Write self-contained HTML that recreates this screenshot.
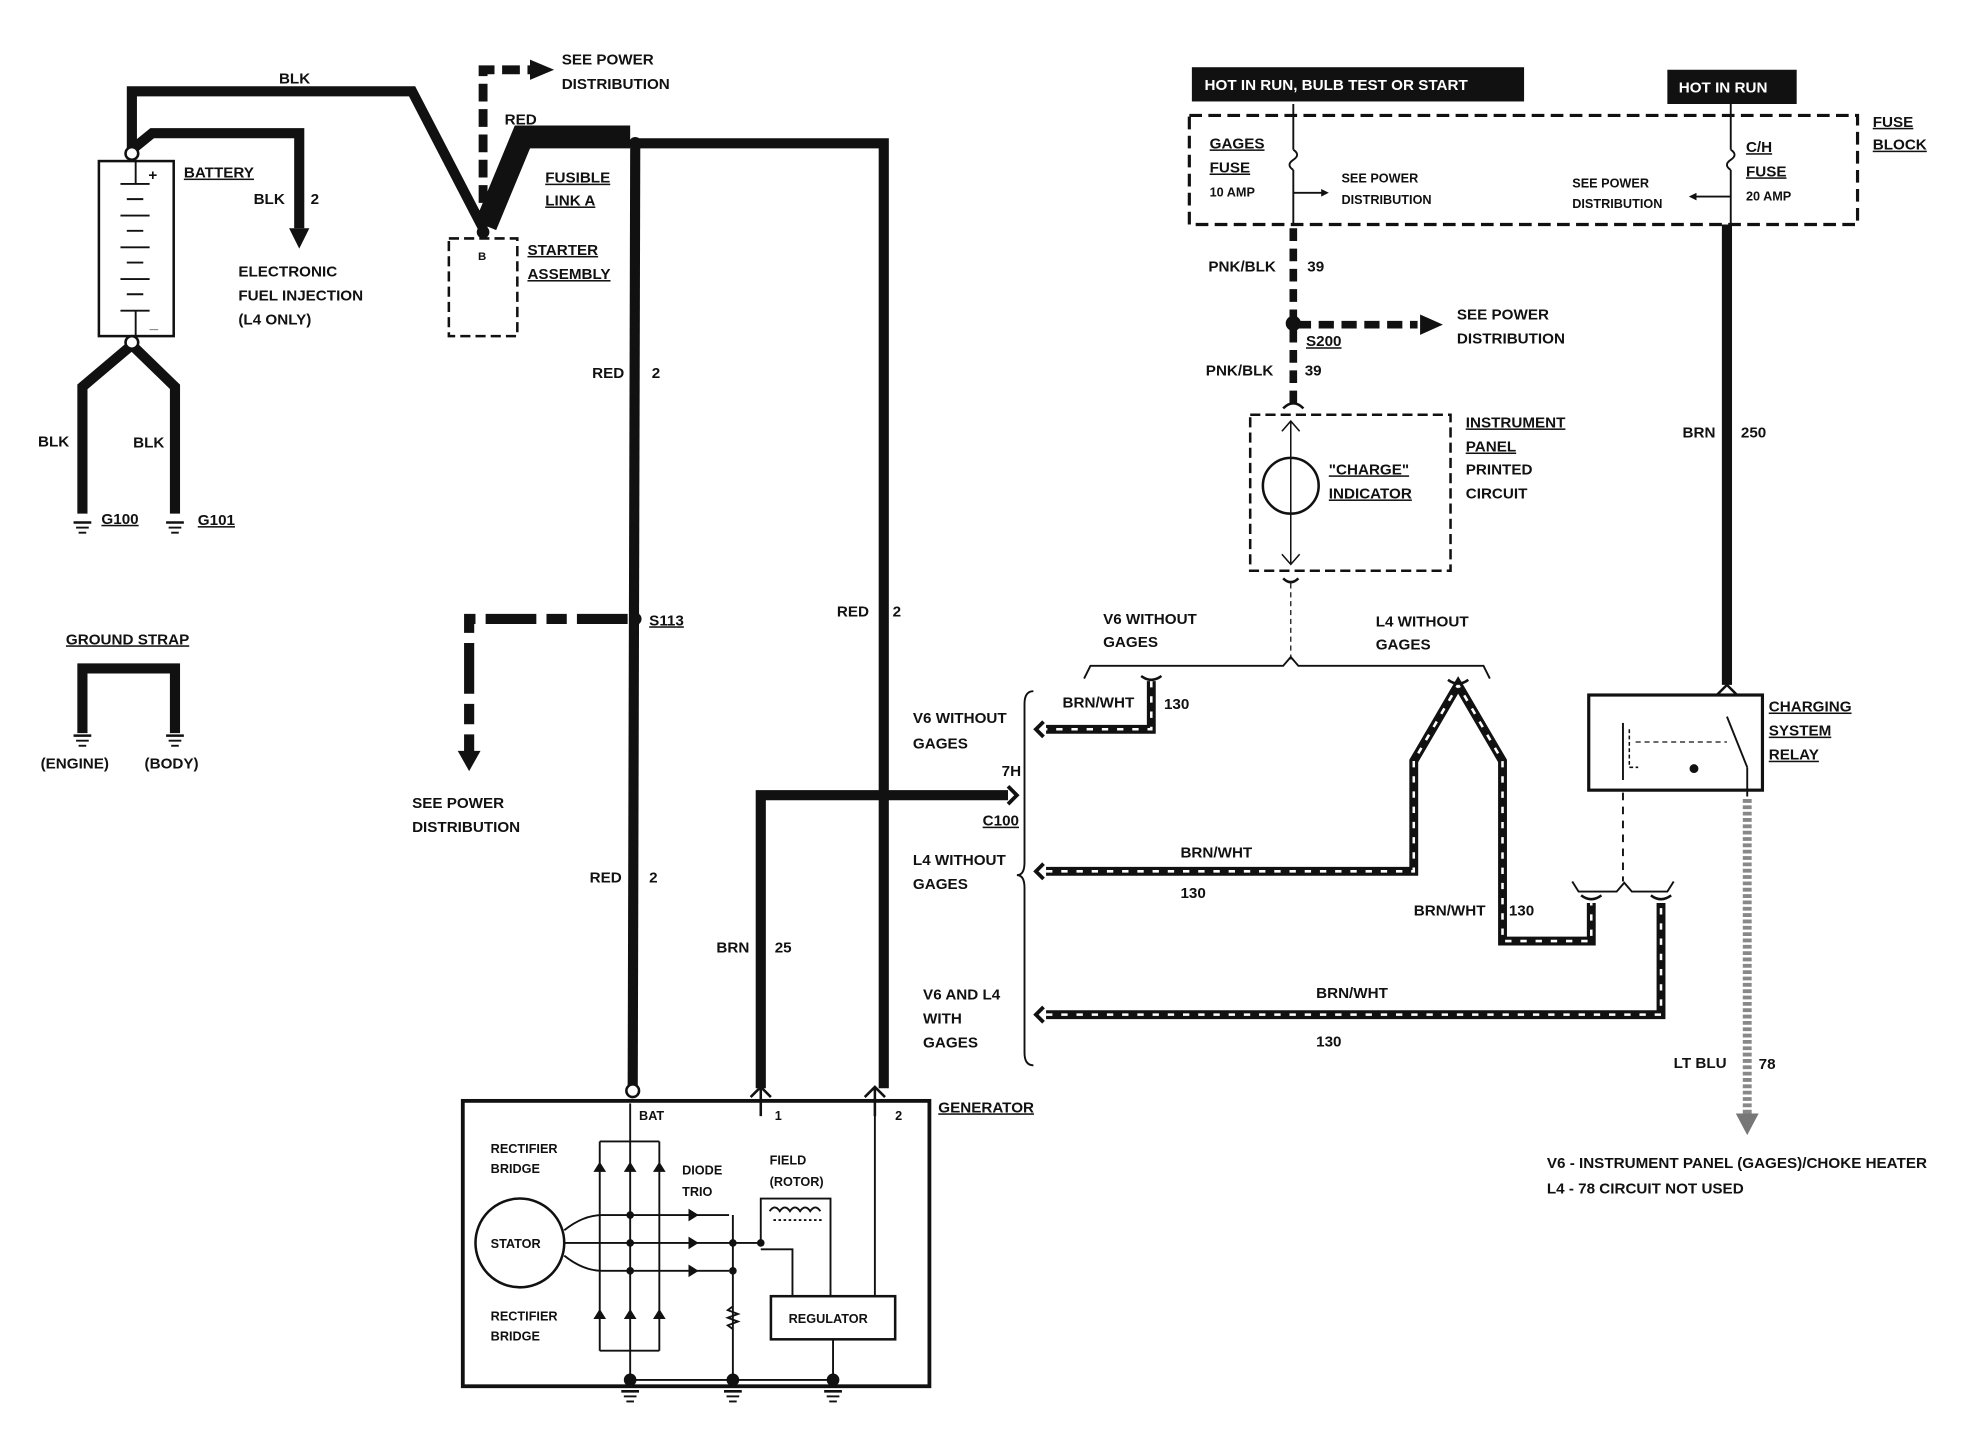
<!DOCTYPE html>
<html><head><meta charset="utf-8"><style>html,body{margin:0;padding:0;background:#fff}svg{display:block}text{font-family:"Liberation Sans",sans-serif;font-weight:bold;font-size:12px;fill:#111}</style></head><body>
<svg width="1978" height="1456" viewBox="0 0 1560 1148" preserveAspectRatio="none" xmlns="http://www.w3.org/2000/svg">
<defs>
<marker id="ar" markerWidth="4" markerHeight="4" refX="2" refY="2" orient="auto" markerUnits="strokeWidth"><path d="M0,0L4,2L0,4z" fill="#111"/></marker>
<g id="gnd"><line x1="-7" y1="0" x2="7" y2="0" stroke="#111" stroke-width="2"/><line x1="-5" y1="4" x2="5" y2="4" stroke="#111" stroke-width="1.5"/><line x1="-3" y1="8" x2="3" y2="8" stroke="#111" stroke-width="1.5"/></g>
</defs>
<g fill="none" stroke="#111" stroke-linejoin="miter">
<!-- battery -->
<rect x="78" y="127" width="59" height="138" stroke-width="2"/>
<g stroke-width="1.5"><line x1="95" y1="145" x2="118" y2="145"/><line x1="100" y1="157" x2="113" y2="157"/><line x1="95" y1="170" x2="118" y2="170"/><line x1="100" y1="182" x2="113" y2="182"/><line x1="95" y1="195" x2="118" y2="195"/><line x1="100" y1="207" x2="113" y2="207"/><line x1="95" y1="220" x2="118" y2="220"/><line x1="100" y1="232" x2="113" y2="232"/><line x1="95" y1="245" x2="118" y2="245"/><line x1="107" y1="127" x2="107" y2="145"/><line x1="107" y1="245" x2="107" y2="265"/></g>
<polyline points="104,118 104,72 325,72 381,180" stroke-width="8"/>
<polyline points="104,118 120,105 236,105 236,180" stroke-width="8"/>
<polygon points="228,180 244,180 236,196" fill="#111" stroke="none"/>
<polyline points="65,405 65,305 104,272 138,305 138,405" stroke-width="8"/>
<polyline points="65,578 65,527 138,527 138,578" stroke-width="8"/>
<!-- starter -->
<rect x="354" y="188" width="54" height="77" stroke-width="2" stroke-dasharray="8,4"/>
<polyline points="381,180 381,55 420,55" stroke-width="7" stroke-dasharray="14,6"/>
<polygon points="418,47 437,55 418,63" fill="#111" stroke="none"/>
<polyline points="383,178 412,108 497,108" stroke-width="18"/>
<!-- red wires -->
<polyline points="503,113 697,113 697,858" stroke-width="8"/>
<line x1="501" y1="113" x2="499" y2="856" stroke-width="8"/>
<polyline points="495,488 370,488 370,595" stroke-width="8" stroke-dasharray="40,8,16,8"/>
<polygon points="361,592 379,592 370,608" fill="#111" stroke="none"/>
<polyline points="600,858 600,627 795,627" stroke-width="8"/>
<path d="M795,620 L802,627 L795,634" stroke-width="3"/>
<path d="M815,545 Q808,545 808,555 L808,680 Q808,690 802,690 Q808,690 808,700 L808,830 Q808,840 815,840" stroke-width="1.5"/>
<!-- generator -->
<rect x="365" y="868" width="368" height="225" stroke-width="3"/>
<circle cx="410" cy="980" r="35" stroke-width="2"/>
<g stroke-width="1.5">
<path d="M445,970 Q460,958 475,958 L575,958"/><line x1="445" y1="980" x2="600" y2="980"/><path d="M445,990 Q460,1002 475,1002 L575,1002"/>
<line x1="473" y1="900" x2="473" y2="1065"/><line x1="497" y1="870" x2="497" y2="1085"/><line x1="520" y1="900" x2="520" y2="1065"/>
<line x1="473" y1="900" x2="520" y2="900"/><line x1="473" y1="1065" x2="520" y2="1065"/>
<line x1="578" y1="958" x2="578" y2="1085"/>
<path d="M578,1030 l-4,3 l8,3 l-8,3 l8,3 l-8,3 l4,3"/>
<polyline points="600,980 600,945 655,945 655,1022"/>
<polyline points="600,985 625,985 625,1022"/>
<line x1="690" y1="870" x2="690" y2="1022"/>
<rect x="608" y="1022" width="98" height="34" stroke-width="2"/>
<line x1="657" y1="1056" x2="657" y2="1085"/>
<line x1="497" y1="1088" x2="657" y2="1088"/>
<path d="M607,955 q4,-6 8,0 q4,-6 8,0 q4,-6 8,0 q4,-6 8,0 q4,-6 8,0"/>
<line x1="610" y1="962" x2="648" y2="962" stroke-dasharray="2,2"/>
</g>
<g fill="#111" stroke="none">
<polygon points="468,924 478,924 473,916"/><polygon points="492,924 502,924 497,916"/><polygon points="515,924 525,924 520,916"/>
<polygon points="468,1040 478,1040 473,1032"/><polygon points="492,1040 502,1040 497,1032"/><polygon points="515,1040 525,1040 520,1032"/>
<polygon points="543,953 551,958 543,963"/><polygon points="543,975 551,980 543,985"/><polygon points="543,997 551,1002 543,1007"/>
<circle cx="497" cy="958" r="3"/><circle cx="497" cy="980" r="3"/><circle cx="497" cy="1002" r="3"/><circle cx="578" cy="980" r="3"/><circle cx="578" cy="1002" r="3"/><circle cx="600" cy="980" r="3"/>
<circle cx="497" cy="1088" r="5"/><circle cx="578" cy="1088" r="5"/><circle cx="657" cy="1088" r="5"/>
<circle cx="501" cy="113" r="5"/><circle cx="501" cy="488" r="5"/><circle cx="381" cy="183" r="5"/>
</g>
<circle cx="499" cy="860" r="5" fill="#fff" stroke-width="2"/>
<circle cx="104" cy="121" r="5" fill="#fff" stroke-width="2"/>
<circle cx="104" cy="270" r="5" fill="#fff" stroke-width="2"/>
<path d="M592,865 l8,-8 l8,8 M600,857 V880 M682,865 l8,-8 l8,8 M690,857 V880" stroke-width="2"/>
<!-- right side -->
<rect x="938" y="91" width="527" height="86" stroke-width="2.5" stroke-dasharray="10,5"/>
<line x1="1020" y1="82" x2="1020" y2="118" stroke-width="1.5"/><path d="M1020,118 q6,4 0,8 q-6,4 0,8" stroke-width="1.5"/><line x1="1020" y1="134" x2="1020" y2="177" stroke-width="1.5"/>
<line x1="1020" y1="152" x2="1045" y2="152" stroke-width="1.5" marker-end="url(#ar)"/>
<line x1="1365" y1="82" x2="1365" y2="118" stroke-width="1.5"/><path d="M1365,118 q6,4 0,8 q-6,4 0,8" stroke-width="1.5"/><line x1="1365" y1="134" x2="1365" y2="177" stroke-width="1.5"/>
<line x1="1365" y1="155" x2="1335" y2="155" stroke-width="1.5" marker-end="url(#ar)"/>
<line x1="1020" y1="180" x2="1020" y2="318" stroke-width="6" stroke-dasharray="10,6"/>
<line x1="1022" y1="256" x2="1118" y2="256" stroke-width="6" stroke-dasharray="12,6"/>
<polygon points="1120,248 1138,256 1120,264" fill="#111" stroke="none"/>
<circle cx="1020" cy="255" r="6" fill="#111" stroke="none"/>
<path d="M1012,322 q8,-8 16,0" stroke-width="2"/>
<rect x="986" y="327" width="158" height="123" stroke-width="2" stroke-dasharray="8,4"/>
<circle cx="1018" cy="383" r="22" stroke-width="2"/>
<line x1="1018" y1="332" x2="1018" y2="445" stroke-width="1.2"/>
<path d="M1011,340 l7,-8 l7,8 M1011,437 l7,8 l7,-8" stroke-width="1.2"/>
<path d="M1012,456 q6,6 12,0" stroke-width="2"/>
<line x1="1018" y1="460" x2="1018" y2="522" stroke-width="1" stroke-dasharray="4,3"/>
<path d="M855,535 L860,525 L1012,525 L1018,518 L1024,525 L1170,525 L1175,535" stroke-width="1.5"/>
<!-- hatched wires -->
<g stroke-width="7">
<polyline points="908,537 908,575 825,575"/>
<polyline points="825,687 1115,687 1115,600 1150,540 1185,600 1185,742 1255,742 1255,712"/>
<polyline points="825,800 1310,800 1310,712"/>
</g>
<g stroke-width="2" stroke="#fff" stroke-dasharray="5,7">
<polyline points="908,537 908,575 825,575"/>
<polyline points="825,687 1115,687 1115,600 1150,540 1185,600 1185,742 1255,742 1255,712"/>
<polyline points="825,800 1310,800 1310,712"/>
</g>
<path d="M823,569 l-6,6 l6,6 M823,681 l-6,6 l6,6 M823,794 l-6,6 l6,6" stroke-width="3"/>
<path d="M900,533 q8,6 16,0 M1142,536 q8,6 16,0 M1247,706 q8,6 16,0 M1302,706 q8,6 16,0" stroke-width="2"/>
<path d="M1240,695 L1245,703 L1275,703 L1281,696 L1287,703 L1315,703 L1320,695" stroke-width="1.5"/>
<line x1="1280" y1="625" x2="1280" y2="695" stroke-width="1.5" stroke-dasharray="6,5"/>
<line x1="1362" y1="177" x2="1362" y2="540" stroke-width="8"/>
<path d="M1354,548 l8,-8 l8,8" stroke-width="2"/>
<rect x="1253" y="548" width="137" height="75" stroke-width="2.5"/>
<polyline points="1280,570 1280,615 M1290,572 1355,572 1362,563" stroke-width="1.5"/>
<polyline points="1285,575 1285,605 1292,605" stroke-width="1.2" stroke-dasharray="3,2"/>
<line x1="1290" y1="585" x2="1362" y2="585" stroke-width="1" stroke-dasharray="4,3"/>
<line x1="1362" y1="565" x2="1378" y2="605" stroke-width="1.5"/>
<line x1="1378" y1="605" x2="1378" y2="628" stroke-width="1.5"/>
<circle cx="1336" cy="606" r="3" fill="#111"/>
<line x1="1378" y1="630" x2="1378" y2="878" stroke="#888" stroke-width="7" stroke-dasharray="3,2"/>
<polygon points="1369,878 1387,878 1378,895" fill="#777" stroke="none"/>
</g>
<g fill="#111">
<rect x="940" y="53" width="262" height="27"/><rect x="1315" y="55" width="102" height="27"/>
</g>
<use href="#gnd" x="65" y="412"/><use href="#gnd" x="138" y="412"/><use href="#gnd" x="65" y="580"/><use href="#gnd" x="138" y="580"/>
<use href="#gnd" x="497" y="1097"/><use href="#gnd" x="578" y="1097"/><use href="#gnd" x="657" y="1097"/>
<g>
<text x="950" y="71" fill="#fff" style="fill:#fff">HOT IN RUN,  BULB TEST OR START</text>
<text x="1324" y="73" style="fill:#fff">HOT IN RUN</text>
<text x="220" y="66">BLK</text><text x="145" y="140" text-decoration="underline">BATTERY</text>
<text x="200" y="161">BLK</text><text x="245" y="161">2</text>
<text x="188" y="218">ELECTRONIC</text><text x="188" y="237">FUEL INJECTION</text><text x="188" y="256">(L4 ONLY)</text>
<text x="117" y="142">+</text><text x="118" y="259">_</text>
<text x="30" y="352">BLK</text><text x="105" y="353">BLK</text>
<text x="80" y="413" text-decoration="underline">G100</text><text x="156" y="414" text-decoration="underline">G101</text>
<text x="52" y="508" text-decoration="underline">GROUND STRAP</text>
<text x="32" y="606">(ENGINE)</text><text x="114" y="606">(BODY)</text>
<text x="443" y="51">SEE POWER</text><text x="443" y="70">DISTRIBUTION</text>
<text x="398" y="98">RED</text>
<text x="430" y="144" text-decoration="underline">FUSIBLE</text><text x="430" y="162" text-decoration="underline">LINK A</text>
<text x="377" y="205" style="font-size:9px">B</text>
<text x="416" y="201" text-decoration="underline">STARTER</text><text x="416" y="220" text-decoration="underline">ASSEMBLY</text>
<text x="467" y="298">RED</text><text x="514" y="298">2</text>
<text x="512" y="493" text-decoration="underline">S113</text>
<text x="660" y="486">RED</text><text x="704" y="486">2</text>
<text x="325" y="637">SEE POWER</text><text x="325" y="656">DISTRIBUTION</text>
<text x="465" y="696">RED</text><text x="512" y="696">2</text>
<text x="565" y="751">BRN</text><text x="611" y="751">25</text>
<text x="790" y="612">7H</text><text x="775" y="651" text-decoration="underline">C100</text>
<text x="740" y="877" text-decoration="underline">GENERATOR</text>
<text x="504" y="883" style="font-size:10px">BAT</text><text x="611" y="883" style="font-size:10px">1</text><text x="706" y="883" style="font-size:10px">2</text>
<text x="387" y="909" style="font-size:10px">RECTIFIER</text><text x="387" y="925" style="font-size:10px">BRIDGE</text>
<text x="538" y="926" style="font-size:10px">DIODE</text><text x="538" y="943" style="font-size:10px">TRIO</text>
<text x="607" y="918" style="font-size:10px">FIELD</text><text x="607" y="935" style="font-size:10px">(ROTOR)</text>
<text x="387" y="984" style="font-size:10px">STATOR</text>
<text x="387" y="1041" style="font-size:10px">RECTIFIER</text><text x="387" y="1057" style="font-size:10px">BRIDGE</text>
<text x="622" y="1043" style="font-size:10px">REGULATOR</text>
<text x="954" y="117" text-decoration="underline">GAGES</text><text x="954" y="136" text-decoration="underline">FUSE</text><text x="954" y="155" style="font-size:10px">10 AMP</text>
<text x="1058" y="144" style="font-size:10px">SEE POWER</text><text x="1058" y="161" style="font-size:10px">DISTRIBUTION</text>
<text x="1240" y="148" style="font-size:10px">SEE POWER</text><text x="1240" y="164" style="font-size:10px">DISTRIBUTION</text>
<text x="1377" y="120" text-decoration="underline">C/H</text><text x="1377" y="139" text-decoration="underline">FUSE</text><text x="1377" y="158" style="font-size:10px">20 AMP</text>
<text x="1477" y="100" text-decoration="underline">FUSE</text><text x="1477" y="118" text-decoration="underline">BLOCK</text>
<text x="953" y="214">PNK/BLK</text><text x="1031" y="214">39</text>
<text x="1149" y="252">SEE POWER</text><text x="1149" y="271">DISTRIBUTION</text>
<text x="1030" y="273" text-decoration="underline">S200</text>
<text x="951" y="296">PNK/BLK</text><text x="1029" y="296">39</text>
<text x="1156" y="337" text-decoration="underline">INSTRUMENT</text><text x="1156" y="356" text-decoration="underline">PANEL</text><text x="1156" y="374">PRINTED</text><text x="1156" y="393">CIRCUIT</text>
<text x="1048" y="374" text-decoration="underline">"CHARGE"</text><text x="1048" y="393" text-decoration="underline">INDICATOR</text>
<text x="1327" y="345">BRN</text><text x="1373" y="345">250</text>
<text x="870" y="492">V6 WITHOUT</text><text x="870" y="510">GAGES</text>
<text x="1085" y="494">L4 WITHOUT</text><text x="1085" y="512">GAGES</text>
<text x="838" y="558">BRN/WHT</text><text x="918" y="559">130</text>
<text x="720" y="570">V6 WITHOUT</text><text x="720" y="590">GAGES</text>
<text x="1395" y="561" text-decoration="underline">CHARGING</text><text x="1395" y="580" text-decoration="underline">SYSTEM</text><text x="1395" y="599" text-decoration="underline">RELAY</text>
<text x="931" y="676">BRN/WHT</text><text x="931" y="708">130</text>
<text x="720" y="682">L4 WITHOUT</text><text x="720" y="701">GAGES</text>
<text x="1115" y="722">BRN/WHT</text><text x="1190" y="722">130</text>
<text x="1038" y="787">BRN/WHT</text><text x="1038" y="825">130</text>
<text x="728" y="788">V6 AND L4</text><text x="728" y="807">WITH</text><text x="728" y="826">GAGES</text>
<text x="1320" y="842">LT BLU</text><text x="1387" y="843">78</text>
<text x="1220" y="921">V6 - INSTRUMENT PANEL (GAGES)/CHOKE HEATER</text>
<text x="1220" y="941">L4 - 78 CIRCUIT NOT USED</text>
</g>
</svg>
</body></html>
